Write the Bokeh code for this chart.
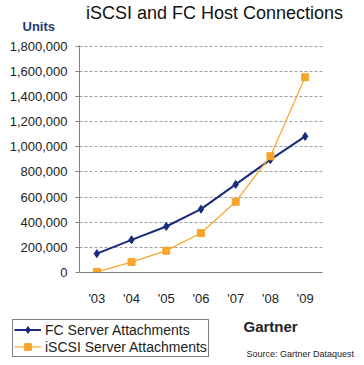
from bokeh.plotting import figure
from bokeh.layouts import column, row
from bokeh.models import Range1d, FactorRange, Label, Legend, LegendItem, NumeralTickFormatter, FixedTicker
from bokeh.embed import file_html
from bokeh.resources import INLINE

years = ["'03", "'04", "'05", "'06", "'07", "'08", "'09"]
fc = [150000, 260000, 366000, 504000, 701000, 898000, 1083000]
iscsi = [5000, 83000, 174000, 314000, 563000, 925000, 1553000]
y_ticks = [0, 200000, 400000, 600000, 800000, 1000000, 1200000, 1400000, 1600000, 1800000]

FONT = "Liberation Sans"
NAVY = "#1b2a7c"
ORANGE = "#f6a52a"
W = 360


def blank(h):
    f = figure(width=W, height=h, x_range=Range1d(0, 1), y_range=Range1d(0, 1),
               output_backend="svg", toolbar_location=None, title=None,
               x_axis_location=None, y_axis_location=None,
               min_border=0, min_border_left=0, min_border_right=0, min_border_top=0, min_border_bottom=0)
    f.grid.visible = False
    f.outline_line_color = None
    return f


# top: title and units
top = blank(35)
top.add_layout(Label(x=214, y=23, x_units="screen", y_units="screen", text="iSCSI and FC Host Connections",
                     text_font=FONT, text_font_size="18px", text_color="#111111",
                     text_align="center", text_baseline="middle"))
top.add_layout(Label(x=22, y=9, x_units="screen", y_units="screen", text="Units",
                     text_font=FONT, text_font_size="13px", text_font_style="bold", text_color="#1f3a7a",
                     text_align="left", text_baseline="middle"))

# main chart
p = figure(width=W, height=273, x_range=FactorRange(*years, range_padding=0),
           y_range=Range1d(0, 1806000), output_backend="svg", toolbar_location=None,
           min_border_left=79, min_border_right=W - 322, min_border_top=10, min_border_bottom=32)
p.outline_line_color = None
p.xgrid.grid_line_color = None
p.ygrid.grid_line_color = "#a0a0a0"
p.ygrid.grid_line_dash = "3 2"
p.yaxis.ticker = FixedTicker(ticks=y_ticks)
p.yaxis.formatter = NumeralTickFormatter(format="0,0")
p.yaxis.minor_tick_line_color = None
p.yaxis.major_tick_in = 0
p.yaxis.major_tick_out = 4
for ax in (p.xaxis, p.yaxis):
    ax.axis_line_color = "#808080"
    ax.major_tick_line_color = "#808080"
    ax.major_label_text_font = FONT
    ax.major_label_text_font_size = "13px"
    ax.major_label_text_color = "#222222"
p.xaxis.major_tick_line_color = None
p.xaxis.major_label_standoff = 12
p.yaxis.major_label_standoff = 8

p.line(years, fc, line_color=NAVY, line_width=2)
p.scatter(years, fc, marker="diamond", size=8, fill_color=NAVY, line_color=NAVY)
p.line(years, iscsi, line_color=ORANGE, line_width=1.2)
p.scatter(years, iscsi, marker="square", size=7, fill_color=ORANGE, line_color=ORANGE)

# bottom: legend and source (sample renderers sit outside the visible range; only the legend shows them)
bot = blank(52)
lx, ly = [5, 6], [5, 6]
l1 = bot.line(lx, ly, line_color=NAVY, line_width=2)
s1 = bot.scatter(lx, ly, marker="diamond", size=7, fill_color=NAVY, line_color=NAVY)
l2 = bot.line(lx, ly, line_color=ORANGE, line_width=1.2)
s2 = bot.scatter(lx, ly, marker="square", size=6, fill_color=ORANGE, line_color=ORANGE)
legend = Legend(items=[LegendItem(label="FC Server Attachments", renderers=[l1, s1]),
                       LegendItem(label="iSCSI Server Attachments", renderers=[l2, s2])],
                location=(12, 3), label_text_font=FONT, label_text_font_size="14px",
                label_text_color="#222222", border_line_color="black", border_line_width=1,
                padding=1, spacing=0, margin=0, glyph_width=27, glyph_height=17,
                label_height=17, label_standoff=4, background_fill_alpha=1)
bot.add_layout(legend)
bot.add_layout(Label(x=243, y=34, x_units="screen", y_units="screen", text="Gartner",
                     text_font=FONT, text_font_size="15px", text_font_style="bold", text_color="#222222",
                     text_align="left", text_baseline="middle"))
bot.add_layout(Label(x=246, y=7, x_units="screen", y_units="screen", text="Source: Gartner Dataquest",
                     text_font=FONT, text_font_size="9px", text_color="#222222",
                     text_align="left", text_baseline="middle"))

layout = column(row(top), row(p), row(bot), spacing=0)
open("out.html", "w").write(file_html(layout, INLINE))
